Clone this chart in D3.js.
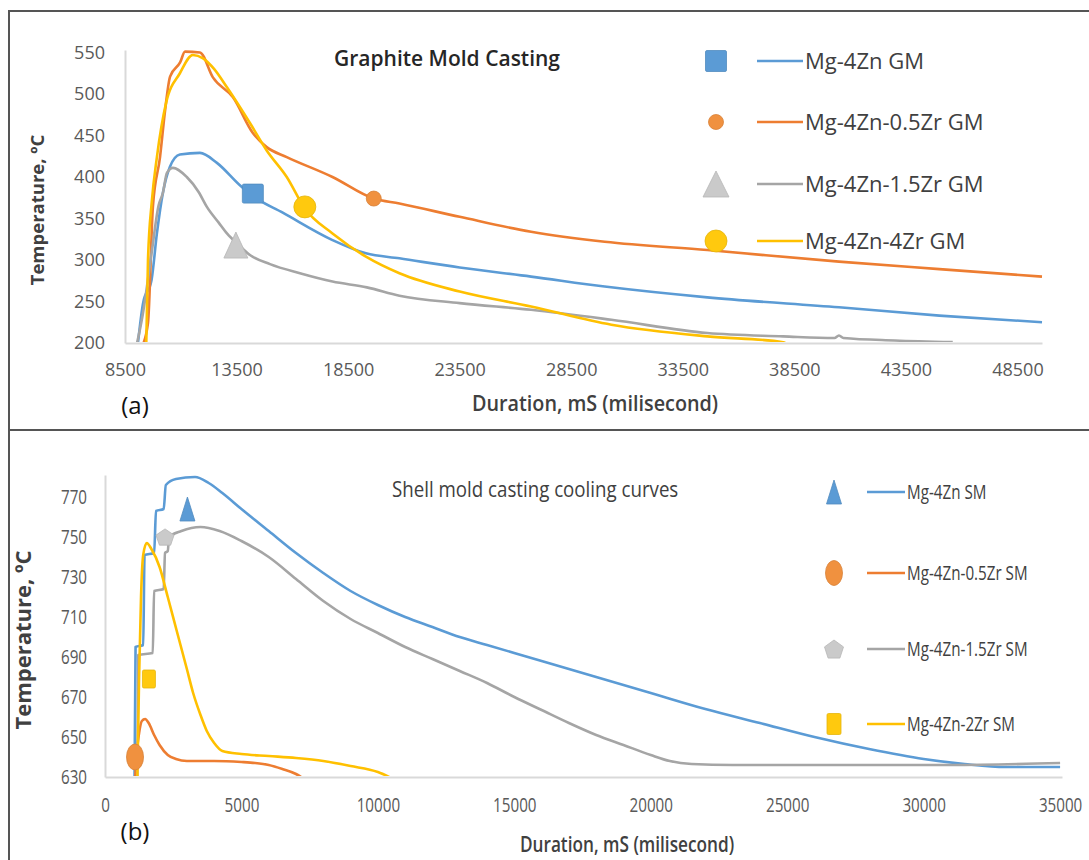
<!DOCTYPE html>
<html lang="en">
<head>
  <meta charset="UTF-8">
  <title>Cooling curves</title>
  <script src="https://cdn.jsdelivr.net/npm/d3@7"></script>
  <style>
    body { margin: 0; background: #fff; }
    text { font-family: "Open Sans", sans-serif; }
  </style>
</head>
<body>
<svg id="chart"></svg>
<script>
  const width = 1089, height = 860;

  // ---- (a) graphite mold, [time ms, temp C]
  const gmTicksX = [8500, 13500, 18500, 23500, 28500, 33500, 38500, 43500, 48500];
  const gmTicksY = [200, 250, 300, 350, 400, 450, 500, 550];
  const gmNames = ["Mg-4Zn GM", "Mg-4Zn-0.5Zr GM", "Mg-4Zn-1.5Zr GM", "Mg-4Zn-4Zr GM"];
  const gm4Zn = [[9060,195],[9310,248],[9690,276],[9930,332],[10200,381],[10510,412],[10960,427],[11860,429],[12620,417],[13650,390],[14230,377],[15570,357],[17800,324],[19300,308],[20800,302],[23500,291],[26700,280],[30000,268],[34600,255],[40500,243],[45000,233],[49600,225]];
  const gmZr05 = [[9250,195],[9530,224],[9750,364],[10070,424],[10300,481],[10520,521],[10970,538],[11190,551],[11860,550],[12440,520],[13340,496],[14230,453],[14850,436],[15750,424],[17800,400],[19650,374],[20800,368],[23500,352],[26700,334],[30000,322],[34600,312],[40500,298],[45000,289],[49600,280]];
  const gmZr15 = [[9000,195],[9300,235],[9700,310],[10000,365],[10200,381],[10380,405],[10650,411],[11270,400],[11800,382],[12170,364],[12700,345],[13070,332],[13600,318],[14100,306],[15000,295],[16340,284],[17800,274],[19340,267],[20800,257],[23500,248],[26700,240],[30300,228],[34600,212],[38000,208],[40300,206],[40500,209],[40700,206],[43000,203],[45600,201]];
  const gmZr4 = [[9450,195],[9530,300],[9700,370],[9930,424],[10340,489],[10960,525],[11540,547],[12000,543],[12500,530],[13070,508],[14100,465],[14850,432],[15750,400],[16560,362],[17800,332],[19300,304],[20800,284],[23500,262],[26700,244],[30300,222],[34600,208],[38000,201],[38200,198]];
  const gmMarkers = [[14230,380],[19650,374],[13470,318],[16560,364]];

  // ---- (b) shell mold
  const smTicksX = [0, 5000, 10000, 15000, 20000, 25000, 30000, 35000];
  const smTicksY = [630, 650, 670, 690, 710, 730, 750, 770];
  const smNames = ["Mg-4Zn SM", "Mg-4Zn-0.5Zr SM", "Mg-4Zn-1.5Zr SM", "Mg-4Zn-2Zr SM"];
  const sm4Zn = [[1080,625],[1120,695],[1400,696],[1450,741],[1800,742],[1870,763],[2150,764],[2230,776],[2600,779],[3300,780],[3800,777],[4300,772],[5000,764],[6000,753],[7000,742],[8000,732],[9000,723],[10000,716],[11000,710],[12000,705],[13000,700],[14000,696],[16000,688],[18000,680],[20000,672],[22000,664],[24000,657],[26000,650],[28000,644],[30000,639],[31500,636.5],[33000,635],[35000,635]];
  const smZr05 = [[1080,622],[1150,640],[1250,652],[1350,658],[1470,659],[1600,657],[1800,651],[2000,646],[2300,641],[2600,639],[3000,638],[4000,638],[5000,637.5],[5500,637],[6000,636],[6500,634],[7000,631.5],[7400,628]];
  const smZr15 = [[1180,625],[1220,691],[1750,692],[1800,723],[2150,724],[2200,742],[2300,743],[2350,750],[2800,753],[3500,755],[4200,753],[5000,748],[6000,740],[7000,729],[8000,718],[9000,709],[10000,702],[11000,695],[12000,689],[13000,683],[14000,677],[15000,670],[16000,663.5],[17000,657],[18000,651],[19000,646],[20000,641],[20700,638],[21500,636.5],[23000,636],[27000,636],[31000,636],[35000,637]];
  const smZr2 = [[1180,625],[1250,680],[1320,720],[1400,741],[1530,747],[1700,744],[2000,735],[2300,720],[2630,703],[3000,684],[3230,672],[3500,661],[3730,653],[4000,647],[4300,643],[5000,641.5],[6000,640.5],[7000,639.5],[8000,638],[9000,635.5],[10000,632.5],[10700,628]];
  const smMarkers = [[3020,764],[1100,640],[2200,750],[1610,679]];

  const colors = ["#5B9BD5", "#ED7D31", "#A5A5A5", "#FFC000"];
  const markFill = ["#5B9BD5", "#F0913F", "#CACACA", "#FFC90E"];

  const svg = d3.select("#chart").attr("width", width).attr("height", height);

  // frame
  svg.append("path")
    .attr("d", `M9,${height}V11H${width} M9,430H${width}`)
    .attr("fill", "none").attr("stroke", "#555").attr("stroke-width", 2);

  function txt(g, s, x, y, o) {
    return g.append("text")
      .attr("transform", `translate(${x},${y})` + (o.rot ? ` rotate(${o.rot})` : "") + ` scale(${o.sx || 1},1)`)
      .attr("text-anchor", o.anchor || "start")
      .attr("font-size", o.size)
      .attr("font-weight", o.weight || 400)
      .attr("fill", o.fill || "#404040")
      .text(s);
  }

  function condense(sel, k) {
    sel.each(function() {
      const x = +this.getAttribute("x") || 0;
      this.setAttribute("x", x / k);
      this.setAttribute("transform", `scale(${k},1)`);
    });
  }

  function marker(g, shape, cx, cy, w, h, fill) {
    let p;
    if (shape === "square") {
      p = g.append("rect").attr("x", cx - w / 2).attr("y", cy - h / 2).attr("width", w).attr("height", h).attr("rx", 1.5);
    } else if (shape === "circle") {
      p = g.append("ellipse").attr("cx", cx).attr("cy", cy).attr("rx", w / 2).attr("ry", h / 2);
    } else if (shape === "triangle") {
      p = g.append("path").attr("d", `M${cx},${cy - h / 2}L${cx + w / 2},${cy + h / 2}L${cx - w / 2},${cy + h / 2}Z`);
    } else {
      const pts = d3.range(5).map(i => {
        const a = -Math.PI / 2 + i * 2 * Math.PI / 5;
        return [cx + Math.cos(a) * w / 2, cy + Math.sin(a) * h / 2 + h * 0.05];
      });
      p = g.append("path").attr("d", "M" + pts.join("L") + "Z");
    }
    p.attr("fill", fill).attr("stroke", d3.color(fill).darker(0.3)).attr("stroke-width", 0.8);
  }

  function panel(cfg) {
    const g = svg.append("g");
    const x = d3.scaleLinear().domain(cfg.xDomain).range(cfg.xRange);
    const y = d3.scaleLinear().domain(cfg.yDomain).range(cfg.yRange);
    const k = cfg.sx;

    const xa = g.append("g")
      .attr("transform", `translate(0,${cfg.yRange[0]})`)
      .call(d3.axisBottom(x).tickValues(cfg.ticksX).tickSize(0).tickPadding(cfg.padX).tickFormat(d3.format("d")));
    const ya = g.append("g")
      .attr("transform", `translate(${cfg.xRange[0]},0)`)
      .call(d3.axisLeft(y).tickValues(cfg.ticksY).tickSize(0).tickPadding(cfg.padY).tickFormat(d3.format("d")));
    [xa, ya].forEach(a => {
      a.select(".domain").attr("stroke", "#d9d9d9").attr("stroke-width", 2);
      a.selectAll("text").attr("font-size", cfg.tickSize).attr("fill", "#595959")
        .attr("font-family", "'Open Sans', sans-serif");
      if (k !== 1) condense(a.selectAll("text"), k);
    });

    const clipId = "clip" + cfg.id;
    g.append("clipPath").attr("id", clipId).append("rect")
      .attr("x", cfg.xRange[0]).attr("y", cfg.yRange[1] - 10)
      .attr("width", cfg.xRange[1] - cfg.xRange[0] + 4)
      .attr("height", cfg.yRange[0] - cfg.yRange[1] + 9);

    const line = d3.line().x(d => x(d[0])).y(d => y(d[1])).curve(d3.curveMonotoneX);
    const lg = g.append("g").attr("clip-path", `url(#${clipId})`);
    cfg.series.forEach((s, i) => {
      lg.append("path").datum(s).attr("d", line)
        .attr("fill", "none").attr("stroke", colors[i]).attr("stroke-width", 2.6)
        .attr("stroke-linejoin", "round");
    });
    cfg.markers.forEach((m, i) => {
      const ms = cfg.markerShapes[i];
      marker(g, ms[0], x(m[0]), y(m[1]), ms[1], ms[2], markFill[i]);
    });

    // legend
    cfg.names.forEach((n, i) => {
      const ry = cfg.legY[i];
      const ls = cfg.legShapes[i];
      marker(g, ls[0], cfg.legX, ry, ls[1], ls[2], markFill[i]);
      g.append("line").attr("x1", cfg.legLine[0]).attr("x2", cfg.legLine[1])
        .attr("y1", ry).attr("y2", ry).attr("stroke", colors[i]).attr("stroke-width", 2.6);
      txt(g, n, cfg.legLine[1] + 2, ry + cfg.legSize * 0.36, { size: cfg.legSize, sx: k, fill: "#404040" });
    });
    return g;
  }

  const panelA = panel({
    id: "a", xDomain: [8500, 49600], xRange: [125, 1042], yDomain: [200, 553], yRange: [343, 50],
    ticksX: gmTicksX, ticksY: gmTicksY, padX: 20, padY: 20, tickSize: 18, sx: 1,
    series: [gm4Zn, gmZr05, gmZr15, gmZr4], markers: gmMarkers,
    markerShapes: [["square", 21, 19], ["circle", 15, 15], ["triangle", 24, 26], ["circle", 22, 22]],
    names: gmNames, legX: 716, legY: [61, 122, 184, 241], legLine: [757, 803], legSize: 22,
    legShapes: [["square", 21, 21], ["circle", 15, 15], ["triangle", 26, 26], ["circle", 22, 22]]
  });
  txt(panelA, "Graphite Mold Casting", 447, 66, { size: 21, weight: 600, anchor: "middle", fill: "#262626" });
  txt(panelA, "Temperature, ºC", 44, 210, { size: 18.5, weight: 700, anchor: "middle", rot: -90 });
  txt(panelA, "Duration, mS (milisecond)", 595, 411, { size: 22, weight: 600, anchor: "middle", sx: 0.9 });
  txt(panelA, "(a)", 135, 414, { size: 24, anchor: "middle", fill: "#111" });

  const panelB = panel({
    id: "b", xDomain: [0, 35070], xRange: [105, 1062], yDomain: [630, 781], yRange: [777, 475],
    ticksX: smTicksX, ticksY: smTicksY, padX: 21, padY: 18, tickSize: 20, sx: 0.76,
    series: [sm4Zn, smZr05, smZr15, smZr2], markers: smMarkers,
    markerShapes: [["triangle", 15, 24], ["circle", 17, 26], ["pentagon", 19, 18], ["square", 13, 18]],
    names: smNames, legX: 834, legY: [492, 573, 649, 724], legLine: [867, 905], legSize: 20,
    legShapes: [["triangle", 15, 24], ["circle", 17, 25], ["pentagon", 20, 20], ["square", 14, 21]]
  });
  txt(panelB, "Shell mold casting cooling curves", 392, 497, { size: 22, sx: 0.85, fill: "#404040" });
  txt(panelB, "Temperature, ºC", 31, 640, { size: 22, weight: 700, anchor: "middle", rot: -90 });
  txt(panelB, "Duration, mS (milisecond)", 627, 852, { size: 21, weight: 600, anchor: "middle", sx: 0.82 });
  txt(panelB, "(b)", 135, 840, { size: 24, anchor: "middle", fill: "#111" });
</script>
</body>
</html>
